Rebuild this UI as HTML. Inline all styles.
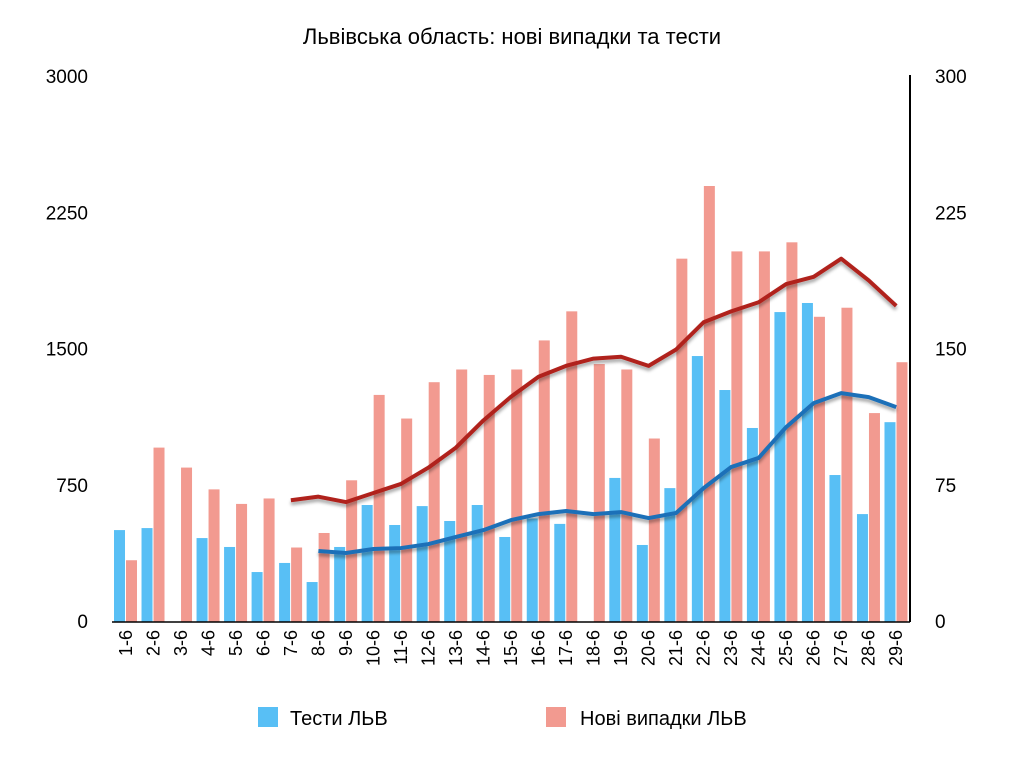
<!DOCTYPE html>
<html><head><meta charset="utf-8"><style>
body{margin:0;background:#fff;font-family:"Liberation Sans",sans-serif;}
svg text{font-family:"Liberation Sans",sans-serif;}
</style></head><body>
<svg id="chart" width="1025" height="758" xmlns="http://www.w3.org/2000/svg">
<defs><filter id="sh" x="-5%" y="-20%" width="110%" height="140%"><feDropShadow dx="0" dy="3" stdDeviation="1.5" flood-color="#000" flood-opacity="0.35"/></filter></defs>
<text x="512" y="44" text-anchor="middle" font-size="22" fill="#000">Львівська область: нові випадки та тести</text>
<g id="g"></g>
<rect x="258" y="707" width="20" height="20" fill="#58bff5"/>
<text x="290" y="725" font-size="20">Тести ЛЬВ</text>
<rect x="546" y="707" width="20" height="20" fill="#f29a90"/>
<text x="580" y="725" font-size="20">Нові випадки ЛЬВ</text>
</svg>
<script>
const categories=["1-6","2-6","3-6","4-6","5-6","6-6","7-6","8-6","9-6","10-6","11-6","12-6","13-6","14-6","15-6","16-6","17-6","18-6","19-6","20-6","21-6","22-6","23-6","24-6","25-6","26-6","27-6","28-6","29-6"];
const tests=[506,517,0,462,413,275,325,220,413,644,534,638,556,644,468,570,540,0,793,424,737,1464,1277,1068,1706,1756,809,594,1100];
const cases=[34,96,85,73,65,68,41,49,78,125,112,132,139,136,139,155,171,142,139,101,200,240,204,204,209,168,173,115,143];
const casesAvg=[null,null,null,null,null,null,67,69,66,71,76,85,96,111,124,135,141,145,146,141,150,165,171,176,186,190,200,188,174];
const testsAvg=[null,null,null,null,null,null,null,391,380,402,407,429,468,506,561,594,611,594,605,572,600,737,853,903,1073,1205,1260,1238,1183];
const leftTicks=[0,750,1500,2250,3000];
const rightTicks=[0,75,150,225,300];
</script>
<script>
const NS="http://www.w3.org/2000/svg";
const g=document.getElementById('g');
const X0=112,X1=910,Y0=622,YT=77,n=categories.length,cw=(X1-X0)/n;
const yL=v=>Y0-v/3000*(Y0-YT), yR=v=>Y0-v/300*(Y0-YT);
function mk(t,a){const e=document.createElementNS(NS,t);for(const k in a)e.setAttribute(k,a[k]);g.appendChild(e);return e;}
leftTicks.forEach(v=>{const t=mk('text',{x:88,y:yL(v)+6,'text-anchor':'end','font-size':19});t.textContent=v;

});
rightTicks.forEach(v=>{const t=mk('text',{x:935,y:yR(v)+6,'font-size':19});t.textContent=v;

});
categories.forEach((c,i)=>{
 const x=X0+i*cw;
 if(tests[i]>0){const r=mk('rect',{x:x+2,y:yL(tests[i]),width:11,height:Y0-yL(tests[i]),fill:'#58bff5'});
 
 }
 const r2=mk('rect',{x:x+14,y:yR(cases[i]),width:11,height:Y0-yR(cases[i]),fill:'#f29a90'});
 
 
 const t=mk('text',{x:0,y:0,'text-anchor':'end','font-size':18,transform:`translate(${x+cw/2+6},630) rotate(-90)`});t.textContent=c;
 
 
});
function line(arr,yf,col,name){let p=[];arr.forEach((v,i)=>{if(v!=null)p.push((X0+i*cw+cw/2)+','+yf(v));});
 const l=mk('polyline',{points:p.join(' '),fill:'none',stroke:col,'stroke-width':4,'stroke-linejoin':'round',filter:'url(#sh)'});
 
 }
line(casesAvg,yR,'#b0211e','line-cases-avg');
line(testsAvg,yL,'#1f6fb8','line-tests-avg');
const b=mk('line',{x1:X0,y1:Y0,x2:X1,y2:Y0,stroke:'#000','stroke-width':1.5});


const ra=mk('line',{x1:X1,y1:75,x2:X1,y2:Y0,stroke:'#000','stroke-width':2});


</script>
</body></html>
